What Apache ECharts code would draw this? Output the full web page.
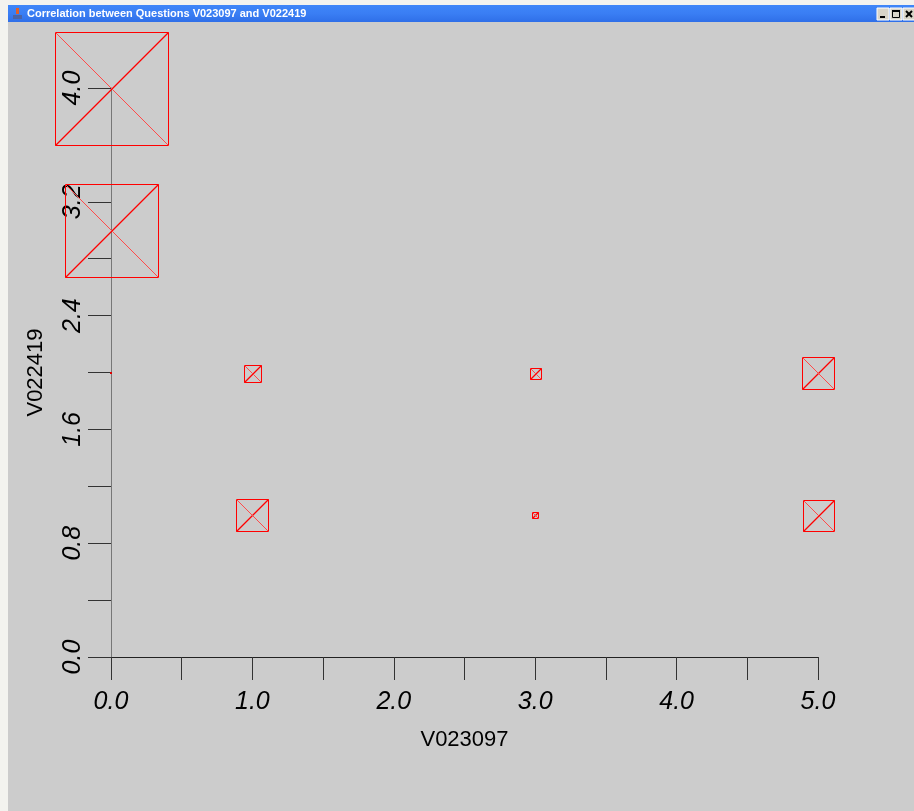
<!DOCTYPE html>
<html>
<head>
<meta charset="utf-8">
<script src="https://cdn.jsdelivr.net/npm/echarts@6/dist/echarts.min.js"></script>
<style>
html,body{margin:0;padding:0;background:#CCCCCC;}
#chart{width:914px;height:811px;}
</style>
</head>
<body>
<div id="chart"></div>
<script>
// ---- data ----
const windowTitle = 'Correlation between Questions V023097 and V022419';
const xName = 'V023097';
const yName = 'V022419';
const xValues = [0, 0, 0, 1, 3, 5, 1, 3, 5];          // V023097 answers
const yValues = [4, 3, 2, 2, 2, 2, 1, 1, 1];          // V022419 answers
const freqs   = [100, 82, 2, 15, 10, 28, 28, 5.5, 27]; // relative frequency (box size)

const SIZE_PER_FREQ = 1.13; // px per frequency unit
const points = xValues.map((x, i) => [x, yValues[i], freqs[i]]);

const chart = echarts.init(document.getElementById('chart'), null, {renderer: 'canvas'});
const RED = '#ff0000';

function renderItem(params, api) {
  const c = api.coord([api.value(0), api.value(1)]);
  const s = Math.max(2, Math.round(api.value(2) * SIZE_PER_FREQ));
  const cx = Math.round(c[0]), cy = Math.round(c[1]);
  const h = s / 2;
  const x0 = Math.round(cx - h) + 0.5, y0 = Math.round(cy - h) + 0.5;
  const x1 = x0 + s, y1 = y0 + s;
  if (s <= 3) {
    return {type: 'rect', shape: {x: cx - 1, y: cy - 1, width: 2, height: 2}, style: {fill: '#dd0000', stroke: 'none'}};
  }
  return {
    type: 'group',
    children: [
      {type: 'rect', shape: {x: x0, y: y0, width: s, height: s}, style: {fill: 'none', stroke: RED, lineWidth: 1}},
      {type: 'line', shape: {x1: x0, y1: y1, x2: x1, y2: y0}, style: {fill: 'none', stroke: RED, lineWidth: 1.2}},
      {type: 'line', shape: {x1: x0, y1: y0, x2: x1, y2: y1}, style: {fill: 'none', stroke: '#ff4a4a', lineWidth: 1}}
    ]
  };
}

const labelFont = {fontFamily: 'Liberation Sans, Arial, sans-serif', fontSize: 25, fontStyle: 'italic', color: '#000'};

const option = {
  backgroundColor: '#CCCCCC',
  animation: false,
  grid: {left: 111, right: 96, top: 88, bottom: 154, containLabel: false},
  xAxis: {
    type: 'value', min: 0, max: 5, interval: 1,
    name: xName, nameLocation: 'middle', nameGap: 72,
    nameTextStyle: {fontFamily: 'Liberation Sans, Arial, sans-serif', fontSize: 22, color: '#000'},
    axisLine: {show: true, onZero: false, lineStyle: {color: '#222', width: 1}},
    axisTick: {show: true, length: 23, lineStyle: {color: '#333', width: 1}},
    minorTick: {show: true, splitNumber: 2, length: 23, lineStyle: {color: '#333', width: 1}},
    axisLabel: Object.assign({margin: 33, formatter: v => v.toFixed(1)}, labelFont),
    splitLine: {show: false}
  },
  yAxis: {
    type: 'value', min: 0, max: 4, interval: 0.8,
    name: yName, nameLocation: 'middle', nameGap: 64, nameRotate: 90,
    nameTextStyle: {fontFamily: 'Liberation Sans, Arial, sans-serif', fontSize: 22, color: '#000'},
    axisLine: {show: true, onZero: false, lineStyle: {color: '#777', width: 1}},
    axisTick: {show: true, length: 23, lineStyle: {color: '#333', width: 1}},
    minorTick: {show: true, splitNumber: 2, length: 23, lineStyle: {color: '#333', width: 1}},
    axisLabel: Object.assign({margin: 25, rotate: 90, formatter: v => v.toFixed(1)}, labelFont),
    splitLine: {show: false}
  },
  graphic: [
    {type: 'rect', shape: {x: 0, y: 0, width: 914, height: 5}, style: {fill: '#F3F3EF'}, z: 100},
    {type: 'rect', shape: {x: 0, y: 0, width: 8, height: 811}, style: {fill: '#F3F3EF'}, z: 100},
    {type: 'rect', shape: {x: 8, y: 5, width: 906, height: 17}, style: {fill: new echarts.graphic.LinearGradient(0, 0, 0, 1, [
      {offset: 0, color: '#3F86F8'}, {offset: 0.5, color: '#3A7EF4'}, {offset: 1, color: '#2F6FE8'}])}, z: 100},
    // java icon
    {type: 'rect', shape: {x: 13, y: 15, width: 9, height: 4}, style: {fill: '#4a64a8'}, z: 101},
    {type: 'rect', shape: {x: 16, y: 8, width: 3, height: 6}, style: {fill: '#e0602a'}, z: 101},
    {type: 'text', style: {x: 27, y: 14, text: windowTitle, fill: '#ffffff', font: 'bold 11px "Liberation Sans", Arial, sans-serif', textVerticalAlign: 'middle'}, z: 101},
    // window buttons
    {type: 'rect', shape: {x: 877, y: 8, width: 12, height: 12}, style: {fill: '#D8D4C8', stroke: '#ffffff', lineWidth: 1}, z: 101},
    {type: 'rect', shape: {x: 880, y: 16, width: 5, height: 2}, style: {fill: '#000'}, z: 102},
    {type: 'rect', shape: {x: 890, y: 8, width: 12, height: 12}, style: {fill: '#D8D4C8', stroke: '#ffffff', lineWidth: 1}, z: 101},
    {type: 'rect', shape: {x: 892.5, y: 10.5, width: 7, height: 7}, style: {fill: 'none', stroke: '#000', lineWidth: 1}, z: 102},
    {type: 'rect', shape: {x: 892, y: 10, width: 8, height: 2}, style: {fill: '#000'}, z: 102},
    {type: 'rect', shape: {x: 903, y: 8, width: 12, height: 12}, style: {fill: '#D8D4C8', stroke: '#ffffff', lineWidth: 1}, z: 101},
    {type: 'line', shape: {x1: 906, y1: 11, x2: 912, y2: 17}, style: {stroke: '#000', lineWidth: 2}, z: 102},
    {type: 'line', shape: {x1: 912, y1: 11, x2: 906, y2: 17}, style: {stroke: '#000', lineWidth: 2}, z: 102}
  ],
  series: [{
    type: 'custom',
    renderItem: renderItem,
    data: points,
    encode: {x: 0, y: 1},
    itemStyle: {color: RED, borderColor: RED},
    clip: false,
    z: 10
  }]
};
chart.setOption(option);
</script>
</body>
</html>
